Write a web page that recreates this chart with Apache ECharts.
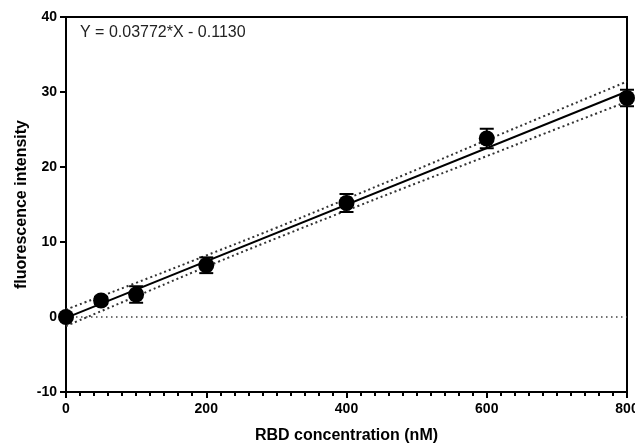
<!DOCTYPE html>
<html>
<head>
<meta charset="utf-8">
<script src="https://cdn.jsdelivr.net/npm/echarts@6/dist/echarts.min.js"></script>
<style>html,body{margin:0;padding:0;background:#fff}#c{width:635px;height:443px}</style>
</head>
<body>
<div id="c"></div>
<script>
// Data
var concentration = [0, 50, 100, 200, 400, 600, 800];
var intensity = [0.0, 2.2, 3.0, 6.9, 15.2, 23.8, 29.2];
var errSD = [0.0, 0.5, 1.1, 1.05, 1.2, 1.3, 1.1];
var fitX = [0, 800];
var fitY = [-0.113, 30.063];
var bandX = [0, 100, 200, 300, 400, 500, 600, 700, 800];
var bandUpper = [1.0, 4.55, 8.2, 11.9, 15.75, 19.65, 23.6, 27.5, 31.4];
var bandLower = [-1.2, 2.75, 6.7, 10.5, 14.2, 17.85, 21.45, 25.1, 28.7];
var zeroX = [0, 800];
var zeroY = [0, 0];
var xTicks = [0, 200, 400, 600, 800];
var yTicks = [-10, 0, 10, 20, 30, 40];
var equationText = 'Y = 0.03772*X - 0.1130';

function pairs(xs, ys) { return xs.map(function (x, i) { return [x, ys[i]]; }); }

var chart = echarts.init(document.getElementById('c'), null, {renderer: 'canvas'});
var font = 'Liberation Sans, Arial, sans-serif';
chart.setOption({
  animation: false,
  backgroundColor: '#fff',
  grid: {left: 66, right: 8, top: 17, bottom: 51, show: true, borderColor: '#000', borderWidth: 2, backgroundColor: 'transparent', containLabel: false, outerBoundsMode: 'none'},
  xAxis: {
    type: 'value', min: xTicks[0], max: xTicks[xTicks.length - 1], interval: 200,
    name: 'RBD concentration (nM)', nameLocation: 'middle', nameGap: 36, nameMoveOverlap: false,
    nameTextStyle: {fontFamily: font, fontWeight: 'bold', fontSize: 16, color: '#000'},
    axisLine: {onZero: false, lineStyle: {color: '#000', width: 2}},
    axisTick: {show: true, inside: false, length: 6, lineStyle: {color: '#000', width: 2}},
    minorTick: {show: true, splitNumber: 10, length: 4, lineStyle: {color: '#000', width: 2}},
    axisLabel: {fontFamily: font, fontWeight: 'bold', fontSize: 14, color: '#000', margin: 10},
    splitLine: {show: false}
  },
  yAxis: {
    type: 'value', min: yTicks[0], max: yTicks[yTicks.length - 1], interval: 10,
    name: 'fluorescence intensity', nameLocation: 'middle', nameGap: 36, nameMoveOverlap: false,
    nameTextStyle: {fontFamily: font, fontWeight: 'bold', fontSize: 16, color: '#000'},
    axisLine: {onZero: false, lineStyle: {color: '#000', width: 2}},
    axisTick: {show: true, inside: false, length: 6, lineStyle: {color: '#000', width: 2}},
    axisLabel: {fontFamily: font, fontWeight: 'bold', fontSize: 14, color: '#000', margin: 9},
    splitLine: {show: false}
  },
  graphic: [{
    type: 'text', left: 80, top: 25,
    style: {text: equationText, font: '16px ' + font, fill: '#222'}
  }],
  series: [
    {type: 'line', data: pairs(zeroX, zeroY), symbol: 'none', lineStyle: {color: '#444', width: 1.5, type: [1.5, 3.5]}, z: 1},
    {type: 'line', data: pairs(bandX, bandUpper), symbol: 'none', smooth: true, lineStyle: {color: '#333', width: 2, type: [2, 3]}, z: 2},
    {type: 'line', data: pairs(bandX, bandLower), symbol: 'none', smooth: true, lineStyle: {color: '#333', width: 2, type: [2, 3]}, z: 2},
    {type: 'line', data: pairs(fitX, fitY), symbol: 'none', lineStyle: {color: '#000', width: 2}, z: 3},
    {
      type: 'custom', z: 4,
      data: concentration.map(function (x, i) { return [x, intensity[i] - errSD[i], intensity[i] + errSD[i]]; }),
      renderItem: function (params, api) {
        var lo = api.coord([api.value(0), api.value(1)]);
        var hi = api.coord([api.value(0), api.value(2)]);
        var hw = 7;
        var st = {stroke: '#000', lineWidth: 2};
        return {type: 'group', children: [
          {type: 'line', shape: {x1: lo[0], y1: lo[1], x2: hi[0], y2: hi[1]}, style: st},
          {type: 'line', shape: {x1: lo[0] - hw, y1: lo[1], x2: lo[0] + hw, y2: lo[1]}, style: st},
          {type: 'line', shape: {x1: hi[0] - hw, y1: hi[1], x2: hi[0] + hw, y2: hi[1]}, style: st}
        ]};
      }
    },
    {type: 'scatter', data: pairs(concentration, intensity), symbol: 'circle', symbolSize: 16, itemStyle: {color: '#000', opacity: 1}, z: 5}
  ]
});
</script>
</body>
</html>
